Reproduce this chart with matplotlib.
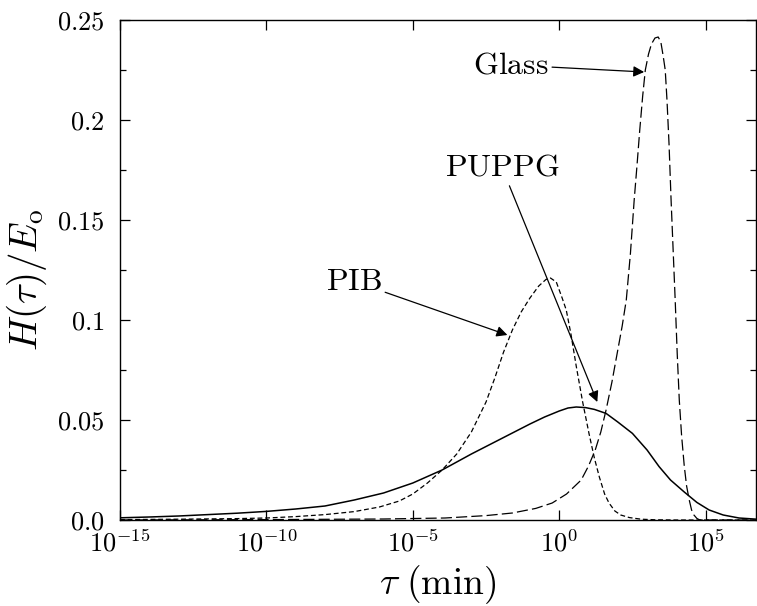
import numpy as np
import matplotlib
matplotlib.use("Agg")
import matplotlib.pyplot as plt
from matplotlib.ticker import FixedLocator, FixedFormatter, MultipleLocator

plt.rcParams['mathtext.fontset'] = 'cm'
plt.rcParams['font.family'] = ['DejaVu Serif']
plt.rcParams['lines.scale_dashes'] = False

# ---- data (log10 of tau in minutes, H/E0) ----
pupp_logtau = [-15, -14, -13, -12, -11, -10, -9, -8, -7, -6, -5, -4, -3, -2, -1, -0.5, 0.0,
               0.3, 0.58, 0.9, 1.2, 1.6, 2.0, 2.5, 3.0, 3.41, 3.8, 4.27, 4.7, 5.12, 5.6, 6.14, 6.75]
pupp_h = [0.0011, 0.0015, 0.0020, 0.0027, 0.0034, 0.0043, 0.0055, 0.0070, 0.0100, 0.0135,
          0.0185, 0.025, 0.033, 0.0405, 0.048, 0.0515, 0.0545, 0.056, 0.0565, 0.0562, 0.0553,
          0.0533, 0.049, 0.0433, 0.035, 0.0267, 0.020, 0.014, 0.0088, 0.005, 0.0025, 0.001, 0.0004]

pib_logtau = [-15, -13, -11, -10, -9, -8, -7, -6.14, -5.46, -5, -4.5, -4, -3.5, -3, -2.5, -2.2,
              -1.9, -1.6, -1.3, -1.0, -0.7, -0.45, -0.3, -0.1, 0.1, 0.24, 0.4, 0.58, 0.8, 1.02,
              1.2, 1.37, 1.55, 1.7, 1.9, 2.1, 2.4, 2.8, 3.3, 4.0, 6.75]
pib_h = [0.0002, 0.0004, 0.0007, 0.001, 0.0017, 0.0027, 0.0042, 0.0065, 0.0095, 0.0130, 0.0185,
         0.025, 0.033, 0.044, 0.059, 0.071, 0.084, 0.095, 0.104, 0.111, 0.117, 0.1203, 0.121,
         0.119, 0.111, 0.105, 0.093, 0.077, 0.059, 0.043, 0.031, 0.0215, 0.013, 0.0085, 0.0045,
         0.0025, 0.0012, 0.0004, 0.0001, 0.0, 0.0]

glass_logtau = [-15, -10, -6, -3.9, -2.5, -1.6, -0.8, -0.24, 0.25, 0.75, 1.0, 1.23, 1.42, 1.6,
                1.8, 2.0, 2.15, 2.29, 2.43, 2.56, 2.66, 2.75, 2.85, 2.94, 3.05, 3.15, 3.27, 3.38,
                3.47, 3.55, 3.62, 3.68, 3.75, 3.82, 3.89, 3.96, 4.03, 4.1, 4.18, 4.27, 4.35, 4.44,
                4.52, 4.6, 4.7, 4.8, 6.75]
glass_h = [0.0, 0.0002, 0.0005, 0.001, 0.0022, 0.0035, 0.0058, 0.0085, 0.013, 0.02, 0.027, 0.035,
           0.044, 0.055, 0.069, 0.085, 0.097, 0.11, 0.133, 0.16, 0.178, 0.195, 0.212, 0.225, 0.233,
           0.238, 0.241, 0.2415, 0.239, 0.232, 0.225, 0.21, 0.188, 0.16, 0.135, 0.11, 0.083, 0.06,
           0.042, 0.027, 0.017, 0.01, 0.005, 0.0025, 0.0008, 0.0, 0.0]

xtick_exp = [-15, -10, -5, 0, 5]
xtick_labels = [r'$10^{-15}$', r'$10^{-10}$', r'$10^{-5}$', r'$10^{0}$', r'$10^{5}$']
ytick_vals = [0.0, 0.05, 0.1, 0.15, 0.2, 0.25]
ytick_labels = [r'$0.0$', r'$0.05$', r'$0.1$', r'$0.15$', r'$0.2$', r'$0.25$']

fig = plt.figure(figsize=(7.57, 6.06), dpi=100)
ax = fig.add_axes([120/757, 1-520/606, 636/757, 500/606])

ax.semilogx(np.power(10.0, pupp_logtau), pupp_h, color='black', lw=1.1, ls='-')
ax.semilogx(np.power(10.0, pib_logtau), pib_h, color='black', lw=0.9, ls=(0, (3.5, 2.0)))
ax.semilogx(np.power(10.0, glass_logtau), glass_h, color='black', lw=0.9, ls=(0, (8.0, 3.0)))

ax.set_xlim(1e-15, 10**6.72)
ax.set_ylim(0.0, 0.25)

ax.xaxis.set_major_locator(FixedLocator(np.power(10.0, xtick_exp)))
ax.xaxis.set_major_formatter(FixedFormatter(xtick_labels))
ax.xaxis.set_minor_locator(FixedLocator([]))
ax.yaxis.set_major_locator(FixedLocator(ytick_vals))
ax.yaxis.set_major_formatter(FixedFormatter(ytick_labels))
ax.yaxis.set_minor_locator(MultipleLocator(0.025))

ax.tick_params(which='both', direction='in', top=True, right=True, width=0.9)
ax.tick_params(which='major', length=7)
ax.tick_params(which='minor', length=4.5)
ax.tick_params(axis='y', which='major', labelsize=19, pad=11)
ax.tick_params(axis='x', which='major', labelsize=19, pad=7)
for s in ax.spines.values():
    s.set_linewidth(1.0)

ax.set_xlabel(r'$\tau\ (\mathrm{min})$', fontsize=27, labelpad=5)
ax.set_ylabel(r'$H(\tau)/E_{\mathrm{o}}$', fontsize=28)
ax.yaxis.set_label_coords(-0.112, 0.48)

arrow = dict(arrowstyle='-|>', color='black', lw=0.9, mutation_scale=16,
             shrinkA=0, shrinkB=0)
ax.annotate(r'$\mathrm{Glass}$', xy=(10**2.9, 0.224), xytext=(10**-0.34, 0.2275),
            fontsize=23, ha='right', va='center', arrowprops=arrow)
ax.annotate(r'$\mathrm{PUPPG}$', xy=(10**1.3, 0.059), xytext=(10**0.0, 0.1685),
            fontsize=23, ha='right', va='bottom', arrowprops=arrow)
ax.annotate(r'$\mathrm{PIB}$', xy=(10**-1.77, 0.0925), xytext=(10**-6.04, 0.1115),
            fontsize=23, ha='right', va='bottom', arrowprops=arrow)

fig.savefig('out.png', dpi=100)
